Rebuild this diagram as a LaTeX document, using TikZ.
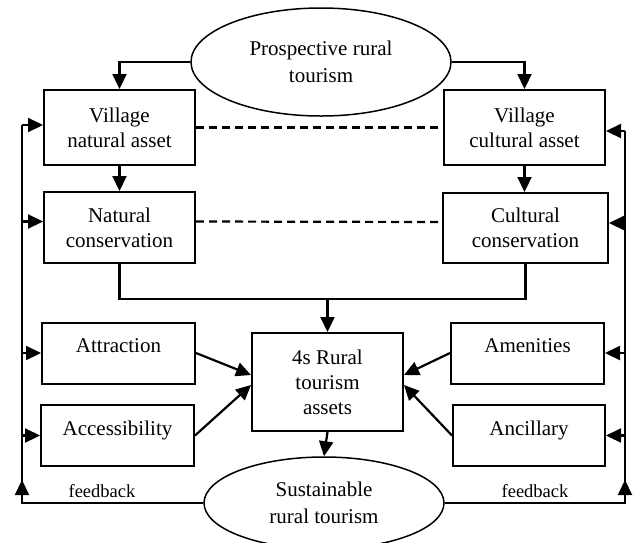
\documentclass[tikz,border=0pt]{standalone}
\usepackage{fontspec}
\setmainfont{Liberation Serif}
\usetikzlibrary{shapes.geometric}
\usetikzlibrary{arrows.meta}

\begin{document}
\begin{tikzpicture}[x=1pt,y=-1pt,
  box/.style={draw, line width=2pt, align=center, inner sep=0pt, font=\fontsize{21}{25}\selectfont},
  onebox/.style={box, text depth=15pt, minimum width=153pt, minimum height=61pt},
  oval/.style={draw, ellipse, line width=1.5pt, align=center, inner sep=0pt, font=\fontsize{21}{27}\selectfont},
  conn/.style={line width=2.2pt},
  arr/.style={line width=2.2pt, -{Triangle[length=15pt,width=14pt]}},
  dashline/.style={line width=2.2pt, dash pattern=on 8pt off 5pt},
  fb/.style={font=\fontsize{18.5}{22}\selectfont}]
\useasboundingbox (0,0) rectangle (640,542);

\node [oval, minimum width=260pt, minimum height=108pt] (prosp) at (321,62) {Prospective rural\\tourism};
\node [oval, minimum width=240pt, minimum height=92pt] (sust) at (324,503) {Sustainable\\rural tourism};

\node [box, minimum width=151pt, minimum height=75pt] (vna) at (119.5,127.5) {Village\\natural asset};
\node [box, minimum width=161pt, minimum height=75pt] (vca) at (524.5,127.5) {Village\\cultural asset};
\node [box, minimum width=151pt, minimum height=71pt] (nc) at (119.5,227.5) {Natural\\conservation};
\node [box, minimum width=165pt, minimum height=70pt] (cc) at (525.5,228) {Cultural\\conservation};
\node [onebox] (attr) at (118.5,353) {Attraction};
\node [onebox] (acc) at (117.5,435.5) {Accessibility};
\node [onebox] (amen) at (527.5,353) {Amenities};
\node [onebox, minimum width=152pt] (anc) at (529,435.5) {Ancillary};
\node [box, minimum width=151pt, minimum height=98pt] (four) at (327.5,382) {4s Rural\\tourism\\assets};

% top down
\draw [arr] (prosp.west) -| (vna.north);
\draw [arr] (prosp.east) -| (vca.north);
\draw [arr] (vna.south) -- (nc.north);
\draw [arr] (vca.south) -- (vca.south |- cc.north);
\draw [dashline] (vna.east) -- (vca.west);
\draw [dashline] ([yshift=6pt]nc.east) -- ([yshift=6pt]cc.west);

\draw [conn] (nc.south) -- ++(0,35) coordinate (jl) -| (cc.south);
\draw [arr] (jl -| four.north) -- (four.north);

\draw [arr] (attr.east) -- ([yshift=7pt]four.west);
\draw [arr] (acc.east) -- ([yshift=-3pt]four.west);
\draw [arr] (amen.west) -- ([yshift=7pt]four.east);
\draw [arr] (anc.west) -- ([yshift=-3pt]four.east);
\draw [arr] (four.south) -- (sust.north);

% feedback
\coordinate (lb) at (22,503);
\coordinate (lt) at (22,125);
\coordinate (rb) at (625,503);
\coordinate (rt) at (625,131);
\draw [conn] (sust.west) -- (lb) -- (lt);
\draw [conn] (sust.east) -- (rb) -- (rt);
\draw [arr] (lb) -- ([yshift=23pt]lb);
\draw [arr] (rb) -- ([yshift=23pt]rb);
\node [fb] (fbl) at (102,491) {feedback};
\node [fb] (fbr) at (535,491) {feedback};

\draw [arr] (lt) -- (lt -| vna.west);
\draw [arr] ([yshift=6pt]lt |- nc.west) -- ([yshift=6pt]nc.west);
\draw [arr] (lt |- attr.west) -- (attr.west);
\draw [arr] (lt |- acc.west) -- (acc.west);
\draw [arr] (rt) -- (rt -| vca.east);
\draw [arr] ([yshift=5pt]rt |- cc.east) -- ([yshift=5pt]cc.east);
\draw [arr] (rt |- amen.east) -- (amen.east);
\draw [arr] (rt |- anc.east) -- (anc.east);

\end{tikzpicture}
\end{document}
